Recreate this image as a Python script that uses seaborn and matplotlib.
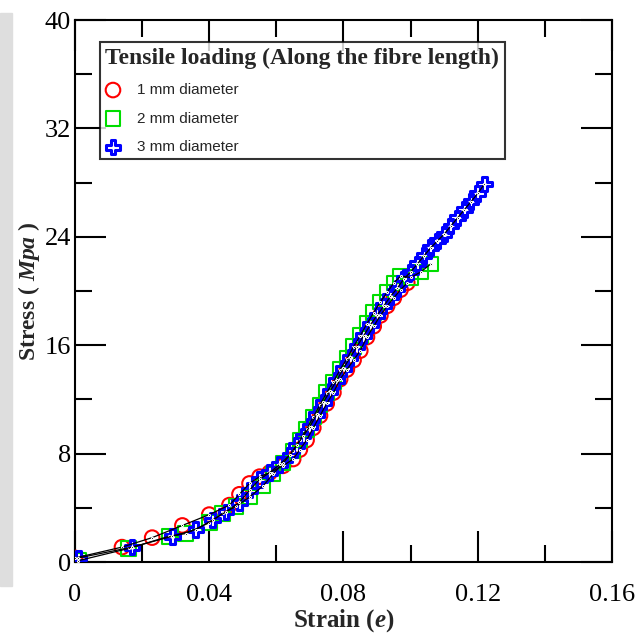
import matplotlib
matplotlib.use("Agg")
import matplotlib.pyplot as plt
import seaborn as sns
import pandas as pd
from matplotlib.patches import Rectangle
from matplotlib.ticker import MultipleLocator

# --- data ---
strain_1mm = [0.000, 0.014, 0.023, 0.032, 0.040, 0.046, 0.049, 0.052, 0.055, 0.058,
              0.062, 0.065, 0.067, 0.069, 0.071, 0.073, 0.075, 0.077, 0.079, 0.081,
              0.083, 0.085, 0.087, 0.089, 0.091, 0.093, 0.095, 0.097, 0.099]
stress_1mm = [0.3, 1.1, 1.8, 2.7, 3.5, 4.2, 5.0, 5.8, 6.3, 6.6,
              7.1, 7.6, 8.3, 9.0, 9.9, 10.8, 11.7, 12.5, 13.5, 14.2,
              14.9, 15.6, 16.6, 17.4, 18.2, 18.9, 19.5, 20.1, 20.6]

strain_2mm = [0.001, 0.016, 0.028, 0.033, 0.040, 0.044, 0.048, 0.052, 0.056, 0.059,
              0.062, 0.065, 0.067, 0.069, 0.071, 0.073, 0.075, 0.077, 0.079, 0.081,
              0.083, 0.085, 0.087, 0.089, 0.091, 0.093, 0.095, 0.097, 0.100, 0.103, 0.106]
stress_2mm = [0.1, 1.0, 1.9, 2.1, 2.9, 3.6, 4.1, 4.8, 5.6, 6.5,
              7.3, 8.2, 9.0, 9.8, 10.7, 11.6, 12.5, 13.3, 14.2, 15.0,
              15.9, 16.7, 17.6, 18.4, 19.2, 19.9, 20.6, 21.1, 21.0, 21.4, 22.0]

strain_3mm = [0.001, 0.017, 0.029, 0.036, 0.041, 0.045, 0.049, 0.052, 0.055, 0.058,
              0.061, 0.064, 0.066, 0.068, 0.070, 0.072, 0.074, 0.076, 0.078, 0.080,
              0.082, 0.084, 0.086, 0.088, 0.090, 0.092, 0.094, 0.096, 0.098, 0.100,
              0.102, 0.104, 0.106, 0.108, 0.110, 0.112, 0.114, 0.116, 0.118, 0.120, 0.122]
stress_3mm = [0.3, 1.1, 1.9, 2.4, 3.1, 3.7, 4.4, 5.3, 6.1, 6.6,
              7.2, 7.9, 8.6, 9.3, 10.0, 10.9, 11.8, 12.6, 13.4, 14.3,
              15.1, 15.9, 16.7, 17.5, 18.2, 18.9, 19.6, 20.2, 20.9, 21.4,
              22.0, 22.6, 23.2, 23.7, 24.2, 24.8, 25.4, 26.0, 26.6, 27.2, 27.9]

labels = ["1 mm diameter", "2 mm diameter", "3 mm diameter"]
x_ticks = [0, 0.04, 0.08, 0.12, 0.16]
x_ticklabels = ["0", "0.04", "0.08", "0.12", "0.16"]

sns.set_style("ticks")
plt.rcParams["font.family"] = ["Liberation Serif", "DejaVu Serif"]
plt.rcParams["mathtext.fontset"] = "custom"
plt.rcParams["mathtext.rm"] = "Liberation Serif:bold"
plt.rcParams["mathtext.it"] = "Liberation Serif:italic:bold"

fig = plt.figure(figsize=(6.43, 6.37), dpi=100)
fig.patches.append(Rectangle((0, 0.08), 0.018, 0.90, transform=fig.transFigure,
                             color="#dedede", zorder=0))
ax = fig.add_axes([0.1166, 0.1177, 0.8352, 0.8509])

series = [
    (strain_1mm, stress_1mm, "o", "red", 1.5),
    (strain_2mm, stress_2mm, "s", "#00dd00", 1.5),
    (strain_3mm, stress_3mm, "P", "blue", 2.2),
]
for (sx, sy, mk, col, mew), lab in zip(series, labels):
    df = pd.DataFrame({"strain": sx, "stress": sy})
    sns.scatterplot(data=df, x="strain", y="stress", ax=ax, marker=mk, s=110,
                    facecolor="none", edgecolor=col, linewidth=mew, label=lab, zorder=3)
    sns.lineplot(data=df, x="strain", y="stress", ax=ax, color="black", lw=0.9,
                 marker=".", markersize=3, sort=False, legend=False, zorder=4)

ax.set_xlim(0, 0.16)
ax.set_ylim(0, 40)
ax.xaxis.set_minor_locator(MultipleLocator(0.02))
ax.yaxis.set_major_locator(MultipleLocator(8))
ax.yaxis.set_minor_locator(MultipleLocator(4))
ax.set_xticks(x_ticks)
ax.set_xticklabels(x_ticklabels)
ax.tick_params(which="both", direction="in", top=True, right=True, width=1.5,
               labelsize=19, colors="black")
ax.tick_params(axis="x", pad=16)
ax.tick_params(axis="y", pad=3)
ax.tick_params(which="major", length=22)
ax.tick_params(which="minor", length=12)
for sp in ax.spines.values():
    sp.set_linewidth(1.5)
    sp.set_color("black")

ax.set_xlabel(r"Strain $\mathit{(e)}$", fontsize=18, fontweight="bold", labelpad=1)
ax.set_ylabel(r"Stress ( $\mathit{Mpa}$ )", fontsize=17, fontweight="bold", labelpad=2)

leg = ax.legend(title="Tensile loading (Along the fibre length)", loc="upper left",
                bbox_to_anchor=(0.0466, 0.9594), borderaxespad=0, frameon=True,
                fancybox=False, edgecolor="black", alignment="left",
                prop={"family": ["Liberation Sans Narrow", "Liberation Sans"], "size": 11},
                handletextpad=1.1, handlelength=1.0, labelspacing=0.95, borderpad=0.35)
leg.get_title().set_fontsize(17)
leg.get_title().set_fontweight("bold")
leg.get_frame().set_linewidth(1.5)
leg.set_zorder(5)

fig.savefig("out.png", dpi=100)
